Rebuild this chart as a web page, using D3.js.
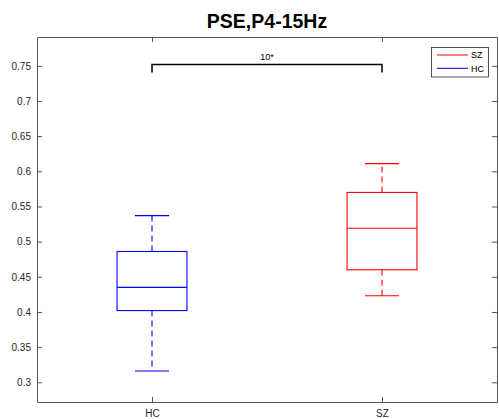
<!DOCTYPE html>
<html>
<head>
<meta charset="UTF-8">
<title>PSE,P4-15Hz</title>
<style>
body { margin: 0; background: #fff; }
svg { font-family: "Liberation Sans", Arial, sans-serif; }
.axis path, .axis line { stroke: #555; }
.axis text { fill: #262626; font-size: 10px; }
</style>
<script src="https://d3js.org/d3.v7.min.js"></script>
</head>
<body>
<svg id="chart"></svg>
<script>
// box statistics per group
var groups   = ["HC", "SZ"];
var whiskLo  = [0.316, 0.423];
var q1       = [0.402, 0.460];
var median   = [0.435, 0.519];
var q3       = [0.486, 0.570];
var whiskHi  = [0.537, 0.611];
var colors   = ["#0000ff", "#ff0000"];

var yTicks = [0.3, 0.35, 0.4, 0.45, 0.5, 0.55, 0.6, 0.65, 0.7, 0.75];

// significance bracket
var sigLabel = "10*";
var sigLevel = 0.752;

// legend order as in the figure
var legendNames = ["SZ", "HC"];
var legendColors = ["#ff0000", "#0000ff"];

var W = 499, H = 419;
var plotL = 37, plotR = 497, plotT = 37, plotB = 402;

var svg = d3.select("#chart").attr("width", W).attr("height", H);

var x = d3.scaleLinear().domain([0.5, 2.5]).range([plotL, plotR]);
var y = d3.scaleLinear().domain([0.272, 0.791]).range([plotB, plotT]);

// axes (MATLAB style: inward ticks, box on)
svg.append("g").attr("class", "axis")
  .attr("transform", "translate(" + plotL + ",0)")
  .call(d3.axisLeft(y).tickValues(yTicks).tickFormat(d3.format("")).tickSizeInner(-5).tickSizeOuter(0).tickPadding(6));

svg.append("g").attr("class", "axis")
  .attr("transform", "translate(" + plotR + ",0)")
  .call(d3.axisRight(y).tickValues(yTicks).tickFormat("").tickSizeInner(-5).tickSizeOuter(0));

svg.append("g").attr("class", "axis")
  .attr("transform", "translate(0," + plotB + ")")
  .call(d3.axisBottom(x).tickValues([1, 2]).tickFormat(function (d) { return groups[d - 1]; })
    .tickSizeInner(-5).tickSizeOuter(0).tickPadding(8));

svg.append("g").attr("class", "axis")
  .attr("transform", "translate(0," + plotT + ")")
  .call(d3.axisTop(x).tickValues([1, 2]).tickFormat("").tickSizeInner(-5).tickSizeOuter(0));

svg.selectAll(".axis .domain").attr("stroke", "#555");

// boxes
var boxHalf = 0.152, capHalf = 0.074;
var boxes = svg.append("g");
groups.forEach(function (g, i) {
  var c = colors[i], p = i + 1;
  var b = boxes.append("g").attr("stroke", c).attr("fill", "none").attr("stroke-width", 1.1);
  // whiskers
  b.append("line").attr("x1", x(p)).attr("x2", x(p)).attr("y1", y(q3[i])).attr("y2", y(whiskHi[i]))
    .attr("stroke-dasharray", "6,4");
  b.append("line").attr("x1", x(p)).attr("x2", x(p)).attr("y1", y(q1[i])).attr("y2", y(whiskLo[i]))
    .attr("stroke-dasharray", "6,4");
  // caps
  b.append("line").attr("x1", x(p - capHalf)).attr("x2", x(p + capHalf)).attr("y1", y(whiskHi[i])).attr("y2", y(whiskHi[i]));
  b.append("line").attr("x1", x(p - capHalf)).attr("x2", x(p + capHalf)).attr("y1", y(whiskLo[i])).attr("y2", y(whiskLo[i]));
  // box
  b.append("rect").attr("x", x(p - boxHalf)).attr("y", y(q3[i]))
    .attr("width", x(p + boxHalf) - x(p - boxHalf)).attr("height", y(q1[i]) - y(q3[i]));
  // median
  b.append("line").attr("x1", x(p - boxHalf)).attr("x2", x(p + boxHalf)).attr("y1", y(median[i])).attr("y2", y(median[i]));
});

// significance bracket
var sy = y(sigLevel);
svg.append("path")
  .attr("d", "M" + x(1) + "," + (sy + 8) + "V" + sy + "H" + x(2) + "V" + (sy + 8))
  .attr("fill", "none").attr("stroke", "#000").attr("stroke-width", 1.5);
svg.append("text").attr("x", (x(1) + x(2)) / 2).attr("y", sy - 4)
  .attr("text-anchor", "middle").attr("font-size", "9px").attr("fill", "#000").text(sigLabel);

// title
svg.append("text").attr("x", (plotL + plotR) / 2).attr("y", 28)
  .attr("text-anchor", "middle").attr("font-size", "19.5px").attr("font-weight", "bold")
  .attr("fill", "#000").text("PSE,P4-15Hz");

// legend
var lg = svg.append("g");
lg.append("rect").attr("x", 431.5).attr("y", 47.5).attr("width", 57).attr("height", 29.5)
  .attr("fill", "#fff").attr("stroke", "#262626").attr("stroke-width", 0.8);
legendNames.forEach(function (n, i) {
  var ly = 55 + i * 13.3;
  lg.append("line").attr("x1", 437).attr("x2", 468).attr("y1", ly).attr("y2", ly)
    .attr("stroke", legendColors[i]).attr("stroke-width", 1);
  lg.append("text").attr("x", 471).attr("y", ly + 3.3).attr("font-size", "9px")
    .attr("fill", "#000").text(n);
});
</script>
</body>
</html>
